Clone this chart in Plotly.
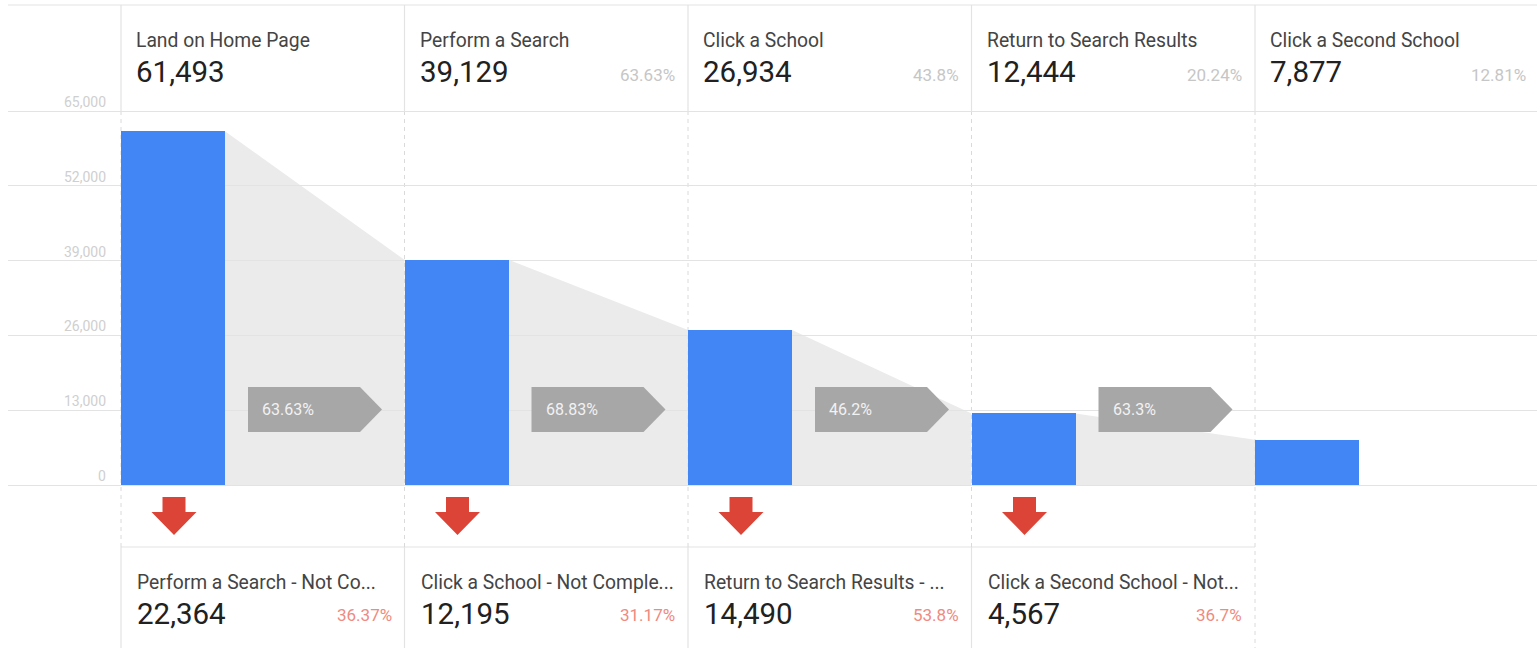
import plotly.graph_objects as go

# ---------------- data ----------------
stages = ["Land on Home Page", "Perform a Search", "Click a School",
          "Return to Search Results", "Click a Second School"]
stage_values = [61493, 39129, 26934, 12444, 7877]
stage_pct = ["", "63.63%", "43.8%", "20.24%", "12.81%"]
step_conversion = ["63.63%", "68.83%", "46.2%", "63.3%"]
drop_labels = ["Perform a Search - Not Co...", "Click a School - Not Comple...",
               "Return to Search Results - ...", "Click a Second School - Not..."]
drop_values = [22364, 12195, 14490, 4567]
drop_pct = ["36.37%", "31.17%", "53.8%", "36.7%"]
ytick_vals = [0, 13000, 26000, 39000, 52000, 65000]
ytick_text = ["0", "13,000", "26,000", "39,000", "52,000", "65,000"]

# ---------------- layout constants (pixels) ----------------
W, H = 1537, 648
LEFT = 8
COL0 = 121
COLW = 283.5
BARW = 104
Y0PX, YTOPPX = 485, 111      # pixel rows of 0 and 65,000
YMAX = 65000
FONT = "Roboto"

def Y(py):
    """pixel row -> y data value"""
    return (Y0PX - py) * YMAX / (Y0PX - YTOPPX)

col_left = [COL0 + i * COLW for i in range(len(stages))]
bar_x = [c + BARW / 2 for c in col_left]

fig = go.Figure()
fig.add_trace(go.Bar(x=bar_x, y=stage_values, width=BARW,
                     marker=dict(color="#4285f4", line=dict(width=0)),
                     hoverinfo="skip", showlegend=False))

shapes = []
annotations = []
BORDER = "#e3e3e3"

# grey connecting areas (below gridlines)
for i in range(len(stages) - 1):
    xr = col_left[i] + BARW
    xl = col_left[i + 1]
    path = f"M{xr},0 L{xr},{stage_values[i]} L{xl},{stage_values[i+1]} L{xl},0 Z"
    shapes.append(dict(type="path", path=path, xref="x", yref="y",
                       fillcolor="#ebebeb", line=dict(width=0), layer="below"))

# top border line
shapes.append(dict(type="line", xref="x", yref="y", x0=LEFT, x1=W, y0=Y(5), y1=Y(5),
                   line=dict(color=BORDER, width=1.2), layer="below"))
# bottom row top line
shapes.append(dict(type="line", xref="x", yref="y", x0=col_left[0], x1=col_left[-1],
                   y0=Y(547), y1=Y(547), line=dict(color=BORDER, width=1.2), layer="below"))

# column borders
for i, c in enumerate(col_left):
    shapes.append(dict(type="line", xref="x", yref="y", x0=c, x1=c, y0=Y(5), y1=Y(111),
                       line=dict(color=BORDER, width=1.2), layer="below"))
    bottom_end = 547 if i < len(stages) - 1 else H
    shapes.append(dict(type="line", xref="x", yref="y", x0=c, x1=c, y0=Y(111), y1=Y(bottom_end),
                       line=dict(color="#dadada", width=1, dash="4px,4px"), layer="below"))
    if i < len(stages) - 1:
        shapes.append(dict(type="line", xref="x", yref="y", x0=c, x1=c, y0=Y(547), y1=Y(H),
                           line=dict(color=BORDER, width=1.2), layer="below"))

LBL = 19.3
PCT = 17

# header annotations
for i, c in enumerate(col_left):
    annotations.append(dict(x=c + 13, y=Y(40), xref="x", yref="y", text=stages[i],
                            xanchor="left", yanchor="middle", showarrow=False,
                            font=dict(family=FONT, size=LBL, color="#444444")))
    annotations.append(dict(x=c + 13, y=Y(72), xref="x", yref="y",
                            text=f"{stage_values[i]:,}",
                            xanchor="left", yanchor="middle", showarrow=False,
                            font=dict(family=FONT, size=29.5, color="#212121")))
    if stage_pct[i]:
        annotations.append(dict(x=c + COLW - 11, y=Y(75), xref="x", yref="y", text=stage_pct[i],
                                xanchor="right", yanchor="middle", showarrow=False,
                                font=dict(family=FONT, size=PCT, color="#c6c6c6")))

# step arrows, drop arrows and drop-off cells
for i in range(len(stages) - 1):
    c = col_left[i]
    x0, x1, xt = c + 127, c + 239, c + 261
    path = (f"M{x0},{Y(387)} L{x1},{Y(387)} L{xt},{Y(409.5)} "
            f"L{x1},{Y(432)} L{x0},{Y(432)} Z")
    shapes.append(dict(type="path", path=path, xref="x", yref="y",
                       fillcolor="#a7a7a7", line=dict(width=0), layer="above"))
    annotations.append(dict(x=c + 139, y=Y(409.5), xref="x", yref="y", text=step_conversion[i],
                            xanchor="left", yanchor="middle", showarrow=False,
                            font=dict(family=FONT, size=16, color="#f2f2f2")))
    cx = c + 53
    rpath = (f"M{cx-11.5},{Y(497)} L{cx+11.5},{Y(497)} L{cx+11.5},{Y(512)} "
             f"L{cx+22.5},{Y(512)} L{cx},{Y(535)} L{cx-22.5},{Y(512)} L{cx-11.5},{Y(512)} Z")
    shapes.append(dict(type="path", path=rpath, xref="x", yref="y",
                       fillcolor="#db4437", line=dict(width=0), layer="above"))
    annotations.append(dict(x=c + 14, y=Y(582), xref="x", yref="y", text=drop_labels[i],
                            xanchor="left", yanchor="middle", showarrow=False,
                            font=dict(family=FONT, size=LBL, color="#444444")))
    annotations.append(dict(x=c + 14, y=Y(614), xref="x", yref="y",
                            text=f"{drop_values[i]:,}",
                            xanchor="left", yanchor="middle", showarrow=False,
                            font=dict(family=FONT, size=29.5, color="#212121")))
    annotations.append(dict(x=c + COLW - 11, y=Y(615), xref="x", yref="y", text=drop_pct[i],
                            xanchor="right", yanchor="middle", showarrow=False,
                            font=dict(family=FONT, size=PCT, color="#f08a80")))

# y tick labels
for v, t in zip(ytick_vals, ytick_text):
    annotations.append(dict(x=108 / W, y=v, xref="paper", yref="y", text=t,
                            xanchor="right", yanchor="bottom", yshift=-1, showarrow=False,
                            font=dict(family=FONT, size=14, color="#cfcfcf")))

fig.update_layout(
    width=W, height=H,
    margin=dict(l=0, r=0, t=0, b=0),
    paper_bgcolor="white", plot_bgcolor="rgba(0,0,0,0)",
    showlegend=False, bargap=0,
    xaxis=dict(range=[LEFT, W], domain=[LEFT / W, 1], showgrid=False, zeroline=False,
               showticklabels=False, ticks="", fixedrange=True),
    yaxis=dict(range=[Y(H), Y(0)], domain=[0, 1], tickvals=ytick_vals, showticklabels=False,
               showgrid=True, gridcolor="#e3e3e3", gridwidth=1.2, zeroline=False,
               ticks="", fixedrange=True),
    shapes=shapes, annotations=annotations,
    font=dict(family=FONT),
)

fig.write_html("out.html", config={"displayModeBar": False})
